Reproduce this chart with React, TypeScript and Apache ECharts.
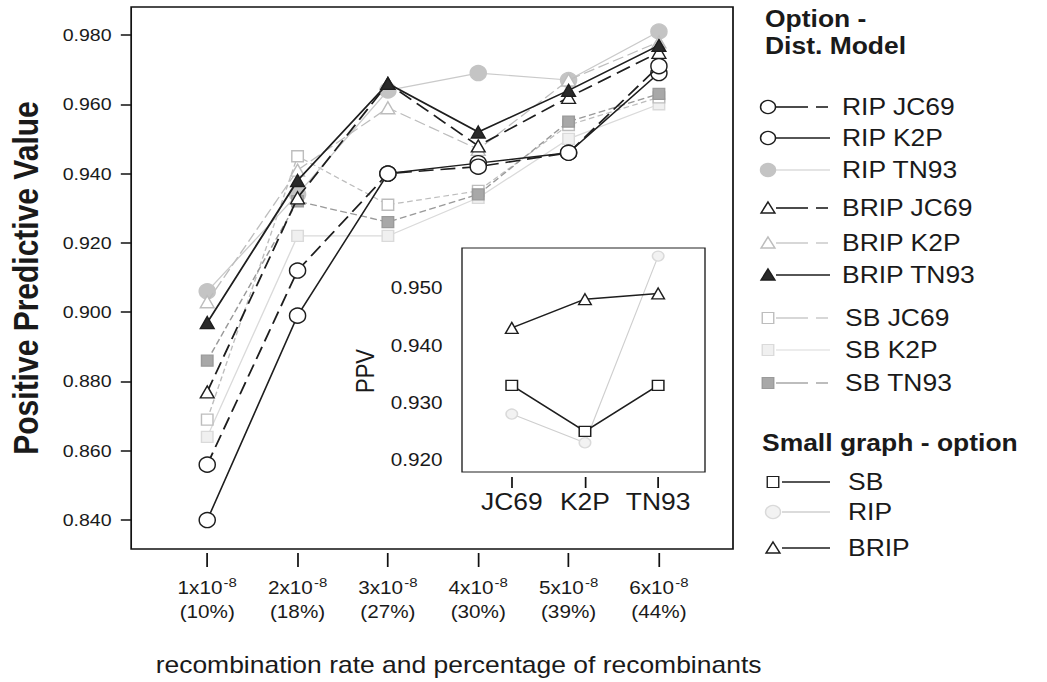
import React, { useEffect, useRef } from "react";
import * as echarts from "echarts";

// ---------------- data ----------------
const rates = [1, 2, 3, 4, 5, 6];
const rateLabels = ["1x10", "2x10", "3x10", "4x10", "5x10", "6x10"];
const rateExponent = "-8";
const recombinantPct = ["(10%)", "(18%)", "(27%)", "(30%)", "(39%)", "(44%)"];
const mainYTicks = [0.84, 0.86, 0.88, 0.9, 0.92, 0.94, 0.96, 0.98];

const ripJC69 = [0.856, 0.912, 0.94, 0.942, 0.946, 0.971];
const ripK2P = [0.84, 0.899, 0.94, 0.943, 0.946, 0.969];
const ripTN93 = [0.906, 0.934, 0.964, 0.969, 0.967, 0.981];
const bripJC69 = [0.877, 0.933, 0.966, 0.948, 0.962, 0.975];
const bripK2P = [0.903, 0.941, 0.959, 0.947, 0.967, 0.978];
const bripTN93 = [0.897, 0.938, 0.966, 0.952, 0.964, 0.977];
const sbJC69 = [0.869, 0.945, 0.931, 0.935, 0.954, 0.962];
const sbK2P = [0.864, 0.922, 0.922, 0.933, 0.95, 0.96];
const sbTN93 = [0.886, 0.932, 0.926, 0.934, 0.955, 0.963];

const insetModels = ["JC69", "K2P", "TN93"];
const insetYTicks = [0.92, 0.93, 0.94, 0.95];
const insetSB = [0.933, 0.925, 0.933];
const insetRIP = [0.928, 0.923, 0.9555];
const insetBRIP = [0.943, 0.948, 0.949];

// ---------------- layout / style ----------------
const S = 1.15055; // horizontal stretch of the whole picture
const CW = 910; // unstretched chart width
const px = (xr: number) => xr / S;
const FONT = '"Liberation Sans", Arial, Helvetica, sans-serif';
const INK = "#1a1a1a";
const BLACK = "#1e1e1e";
const LIGHT = "#bdbdbd";
const VLIGHT = "#dadada";
const MID = "#9a9a9a";

type Spec = {
  name: string;
  values: number[];
  symbol: "circle" | "triangle" | "rect";
  fill: string;
  stroke: string;
  line: string;
  lineType: any;
  dashedLegend: boolean;
  width: number;
};

// drawing order: light first, dark last
const specs: Spec[] = [
  { name: "SB K2P", values: sbK2P, symbol: "rect", fill: "#f0f0f0", stroke: VLIGHT, line: VLIGHT, lineType: "solid", dashedLegend: false, width: 1.2 },
  { name: "SB JC69", values: sbJC69, symbol: "rect", fill: "#ffffff", stroke: LIGHT, line: LIGHT, lineType: [5, 3], dashedLegend: true, width: 1.2 },
  { name: "RIP TN93", values: ripTN93, symbol: "circle", fill: "#c4c4c4", stroke: "#c4c4c4", line: "#cacaca", lineType: "solid", dashedLegend: false, width: 1.2 },
  { name: "BRIP K2P", values: bripK2P, symbol: "triangle", fill: "#ffffff", stroke: LIGHT, line: LIGHT, lineType: [10, 4], dashedLegend: true, width: 1.2 },
  { name: "SB TN93", values: sbTN93, symbol: "rect", fill: "#a8a8a8", stroke: MID, line: MID, lineType: [6, 3], dashedLegend: true, width: 1.3 },
  { name: "RIP K2P", values: ripK2P, symbol: "circle", fill: "#ffffff", stroke: BLACK, line: BLACK, lineType: "solid", dashedLegend: false, width: 1.4 },
  { name: "RIP JC69", values: ripJC69, symbol: "circle", fill: "#ffffff", stroke: BLACK, line: BLACK, lineType: [13, 6], dashedLegend: true, width: 1.6 },
  { name: "BRIP JC69", values: bripJC69, symbol: "triangle", fill: "#ffffff", stroke: BLACK, line: BLACK, lineType: [13, 6], dashedLegend: true, width: 1.6 },
  { name: "BRIP TN93", values: bripTN93, symbol: "triangle", fill: "#2a2a2a", stroke: BLACK, line: BLACK, lineType: "solid", dashedLegend: false, width: 1.6 },
];

const legendOrder = [
  "RIP JC69", "RIP K2P", "RIP TN93",
  "BRIP JC69", "BRIP K2P", "BRIP TN93",
  "SB JC69", "SB K2P", "SB TN93",
];
const legendRowsY = [107, 138, 170, 208, 243, 275, 318, 350, 383];

const symbolSize = (s: string) => (s === "circle" ? [14, 15] : s === "triangle" ? [12, 12] : [10, 11]);

function marker(shape: string, cx: number, cy: number, fill: string, stroke: string) {
  if (shape === "circle")
    return { type: "circle", shape: { cx, cy, r: 6.5 }, style: { fill, stroke, lineWidth: 1.3 } };
  if (shape === "triangle")
    return {
      type: "polygon",
      shape: { points: [[cx, cy - 6], [cx + 6, cy + 5], [cx - 6, cy + 5]] },
      style: { fill, stroke, lineWidth: 1.4 },
    };
  return { type: "rect", shape: { x: cx - 5, y: cy - 5.5, width: 10, height: 11 }, style: { fill, stroke, lineWidth: 1.2 } };
}

function legendGraphics() {
  const g: any[] = [];
  const title = (text: string, xr: number, y: number) => ({
    type: "text",
    x: px(xr),
    y,
    style: { text, fontFamily: FONT, fontSize: 23, fontWeight: "bold", fill: INK, align: "left", verticalAlign: "middle" },
  });
  const label = (text: string, xr: number, y: number) => ({
    type: "text",
    x: px(xr),
    y,
    style: { text, fontFamily: FONT, fontSize: 23, fill: INK, align: "left", verticalAlign: "middle" },
  });
  const seg = (x1: number, x2: number, y: number, stroke: string, w: number) => ({
    type: "line",
    shape: { x1: px(x1), y1: y, x2: px(x2), y2: y },
    style: { stroke, lineWidth: w },
  });

  g.push(title("Option -", 765, 19));
  g.push(title("Dist. Model", 765, 46));
  legendOrder.forEach((name, i) => {
    const s = specs.find((q) => q.name === name)!;
    const y = legendRowsY[i];
    if (s.dashedLegend) {
      g.push(seg(776, 808, y, s.line, s.width));
      g.push(seg(816, 828, y, s.line, s.width));
    } else {
      g.push(seg(776, 830, y, s.line, s.width));
    }
    g.push(marker(s.symbol, px(768), y, s.fill, s.stroke));
    g.push(label(name, name.startsWith("SB") ? 845 : 842, y));
  });

  g.push(title("Small graph - option", 762, 443));
  const small = [
    { name: "SB", y: 482, symbol: "rect", fill: "#fff", stroke: BLACK, line: BLACK },
    { name: "RIP", y: 512, symbol: "circle", fill: "#f2f2f2", stroke: VLIGHT, line: "#cfcfcf" },
    { name: "BRIP", y: 548, symbol: "triangle", fill: "#fff", stroke: BLACK, line: BLACK },
  ];
  small.forEach((s) => {
    g.push(seg(782, 830, s.y, s.line, 1.4));
    g.push(marker(s.symbol, px(773), s.y, s.fill, s.stroke));
    g.push(label(s.name, 848, s.y));
  });
  return g;
}

function buildOption(): any {
  const mainSeries = specs.map((s, i) => ({
    type: "line",
    name: s.name,
    xAxisIndex: 0,
    yAxisIndex: 0,
    data: rates.map((r, k) => [r, s.values[k]]),
    symbol: s.symbol,
    symbolSize: symbolSize(s.symbol),
    showSymbol: true,
    lineStyle: { color: s.line, width: s.width, type: s.lineType },
    itemStyle: { color: s.fill, borderColor: s.stroke, borderWidth: 1.3 },
    z: 2 + i,
    silent: true,
  }));

  const insetDefs = [
    { name: "RIP", values: insetRIP, symbol: "circle", fill: "#f2f2f2", stroke: VLIGHT, line: "#cfcfcf", width: 1 },
    { name: "SB", values: insetSB, symbol: "rect", fill: "#fff", stroke: BLACK, line: BLACK, width: 1.5 },
    { name: "BRIP", values: insetBRIP, symbol: "triangle", fill: "#fff", stroke: BLACK, line: BLACK, width: 1.5 },
  ];
  const insetSeries = insetDefs.map((s, i) => ({
    type: "line",
    name: "inset " + s.name,
    xAxisIndex: 1,
    yAxisIndex: 1,
    data: insetModels.map((_, k) => [k, s.values[k]]),
    symbol: s.symbol,
    symbolSize: s.symbol === "triangle" ? [11, 11] : [10, 10],
    lineStyle: { color: s.line, width: s.width },
    itemStyle: { color: s.fill, borderColor: s.stroke, borderWidth: 1.3 },
    z: 20 + i,
    silent: true,
  }));

  const tickStyle = { color: "#111", width: 1.5 };

  return {
    animation: false,
    backgroundColor: "#ffffff",
    textStyle: { fontFamily: FONT },
    grid: [
      { left: px(124), top: 7, width: px(609), height: 543, show: true, borderColor: "#111", borderWidth: 1.5, backgroundColor: "transparent" },
      { left: px(462), top: 248, width: px(243), height: 224, show: true, borderColor: "#222", borderWidth: 1.2, backgroundColor: "#ffffff", z: 10 },
    ],
    xAxis: [
      {
        type: "value",
        gridIndex: 0,
        min: 0.158,
        max: 6.82,
        offset: 4,
        axisLine: { show: false },
        splitLine: { show: false },
        axisTick: { show: true, length: 14, lineStyle: tickStyle, customValues: rates },
        axisLabel: {
          customValues: rates,
          margin: 23,
          formatter: (v: number) => {
            const i = rates.indexOf(Math.round(v));
            return `{n|${rateLabels[i]}}{s|${rateExponent}}\n{p|${recombinantPct[i]}}`;
          },
          rich: {
            n: { fontFamily: FONT, fontSize: 18, color: INK, lineHeight: 24 },
            s: { fontFamily: FONT, fontSize: 13, color: INK, lineHeight: 13, padding: [0, 0, 11, 1] },
            p: { fontFamily: FONT, fontSize: 18, color: INK, lineHeight: 24 },
          },
        },
        name: "recombination rate and percentage of recombinants",
        nameLocation: "middle",
        nameGap: 101,
        nameTextStyle: { fontFamily: FONT, fontSize: 23, color: INK, padding: [0, 0, 0, 46] },
      },
      {
        type: "value",
        gridIndex: 1,
        min: -0.68,
        max: 2.64,
        offset: 5,
        axisLine: { show: false },
        splitLine: { show: false },
        axisTick: { show: true, length: 11, lineStyle: tickStyle, customValues: [0, 1, 2] },
        axisLabel: {
          customValues: [0, 1, 2],
          margin: 14,
          fontFamily: FONT,
          fontSize: 23,
          color: INK,
          formatter: (v: number) => insetModels[Math.round(v)] ?? "",
        },
      },
    ],
    yAxis: [
      {
        type: "value",
        gridIndex: 0,
        min: 0.83165,
        max: 0.98807,
        axisLine: { show: false },
        splitLine: { show: false },
        axisTick: { show: true, length: 9, lineStyle: tickStyle, customValues: mainYTicks },
        axisLabel: {
          customValues: mainYTicks,
          margin: 17,
          fontFamily: FONT,
          fontSize: 17,
          color: INK,
          formatter: (v: number) => v.toFixed(3),
        },
        name: "Positive Predictive Value",
        nameLocation: "middle",
        nameGap: 76,
        nameRotate: 90,
        nameTextStyle: { fontFamily: FONT, fontSize: 30, fontWeight: "bold", color: INK },
      },
      {
        type: "value",
        gridIndex: 1,
        min: 0.91791,
        max: 0.95691,
        offset: 2,
        axisLine: { show: false },
        splitLine: { show: false },
        axisTick: { show: true, length: 11, lineStyle: tickStyle, customValues: insetYTicks },
        axisLabel: {
          customValues: insetYTicks,
          margin: 15,
          fontFamily: FONT,
          fontSize: 18,
          color: INK,
          formatter: (v: number) => v.toFixed(3),
        },
        name: "PPV",
        nameLocation: "middle",
        nameGap: 71,
        nameRotate: 90,
        nameTextStyle: { fontFamily: FONT, fontSize: 22, color: INK, padding: [0, 22, 0, 0] },
      },
    ],
    series: [...mainSeries, ...insetSeries],
    graphic: legendGraphics(),
  };
}

export default function App() {
  const ref = useRef<HTMLDivElement>(null);
  useEffect(() => {
    if (!ref.current) return;
    const chart = echarts.init(ref.current, null, { renderer: "svg" });
    chart.setOption(buildOption());
    return () => chart.dispose();
  }, []);
  return (
    <div
      style={{
        position: "absolute",
        left: 0,
        top: 0,
        width: 1047,
        height: 682,
        overflow: "hidden",
        background: "#fff",
      }}
    >
      <div
        ref={ref}
        style={{ width: CW, height: 682, transform: `scaleX(${S})`, transformOrigin: "0 0" }}
      />
    </div>
  );
}
